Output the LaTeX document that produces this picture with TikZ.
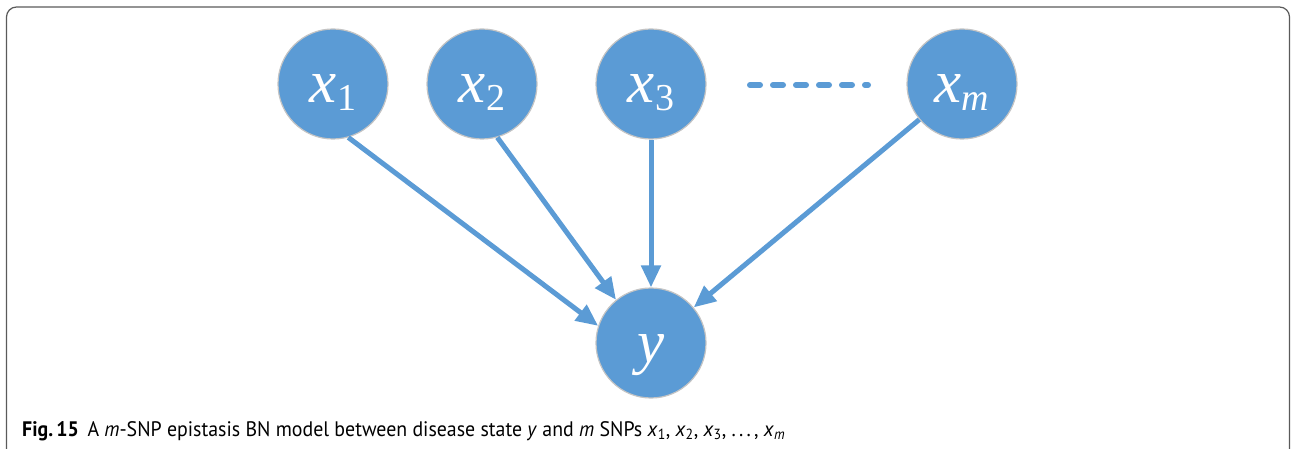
\documentclass[tikz,border=0pt]{standalone}
\usepackage{fontspec}
\usepackage{graphicx}
\usetikzlibrary{arrows.meta}
\setmainfont{PT Sans}
\newfontfamily\nodefont{Liberation Serif}

\definecolor{nodeblue}{HTML}{5B9BD5}
\definecolor{rimgray}{HTML}{C4C4C4}
\definecolor{framegray}{HTML}{5A5A5A}

% label of a circle: italic letter with an optional subscript
\newcommand{\varlabel}[2]{%
  {\nodefont\fontsize{61}{63}\selectfont\itshape #1}%
  \raisebox{-8pt}{\nodefont\fontsize{38}{40}\selectfont #2}}

\tikzset{
  var/.style={circle, fill=nodeblue, draw=rimgray, line width=1.2pt,
    minimum size=110pt, inner sep=0pt, text=white,
    text height=38pt, text depth=0pt},
  arr/.style={draw=nodeblue, line width=5pt,
    -{Triangle[length=22pt,width=19pt]}},
  dots/.style={draw=nodeblue, line width=6pt, line cap=round,
    dash pattern=on 10pt off 13pt},
  frameline/.style={draw=framegray, line width=1.2pt, rounded corners=10pt}
}

\begin{document}
\begin{tikzpicture}[x=1pt,y=-1pt]
  \useasboundingbox (0,0) rectangle (1291,449);
  \clip (0,0) rectangle (1291,449);

  % open frame round the figure
  \draw[frameline] (6.5,470) -- (6.5,7) -- (1289.5,7) -- (1289.5,470);

  % variables
  \node[var] (x1) at (333,84) {\varlabel{x}{1}};
  \node[var] (x2) at (482,84) {\varlabel{x}{2}};
  \node[var] (x3) at (651,84) {\varlabel{x}{3}};
  \node[var] (xm) at (962,84) {\varlabel{x}{\itshape m}};
  \node[var] (y)  at (651,343) {\varlabel{y}{}};

  % ellipsis between x3 and xm
  \coordinate (d0) at (750,85);
  \coordinate (d1) at (868,85);
  \draw[dots] (d0) -- (d1);

  % edges into the disease state
  \draw[arr] (x1.-74) -- (y.162);
  \draw[arr] (x2.-74) -- (y.129);
  \draw[arr] (x3) -- (y);
  \draw[arr] (xm) -- (y);

  % caption
  \node[anchor=base west, inner sep=0pt] (cap) at (22,436)
    {\resizebox{763pt}{\height}{\fontsize{21}{24}\selectfont
      \textbf{Fig.\,15}\hspace{9pt}A \textit{m}-SNP epistasis BN model between
      disease state \textit{y} and \textit{m} SNPs
      \textit{x}\textsubscript{1}, \textit{x}\textsubscript{2},
      \textit{x}\textsubscript{3}, .\,.\,.\,, \textit{x}\textsubscript{\textit{m}}}};
\end{tikzpicture}
\end{document}
